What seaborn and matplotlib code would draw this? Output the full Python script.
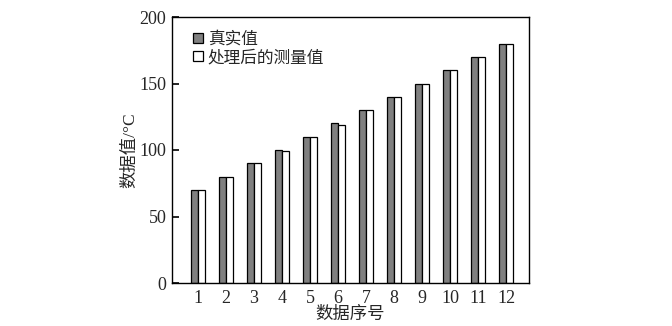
import matplotlib
matplotlib.use("Agg")
import matplotlib.pyplot as plt
import seaborn as sns
import pandas as pd

categories = ["1", "2", "3", "4", "5", "6", "7", "8", "9", "10", "11", "12"]
true_values = [70, 80, 90, 100, 110, 120, 130, 140, 150, 160, 170, 180]
measured_values = [70, 80, 90, 99, 110, 119, 130, 140, 150, 160, 170, 180]
series_names = ["真实值", "处理后的测量值"]
y_ticks = [0, 50, 100, 150, 200]

sns.set_theme(style="white")
plt.rcParams["font.family"] = ["Liberation Serif", "Noto Sans CJK SC"]
plt.rcParams["axes.unicode_minus"] = False

df = pd.DataFrame({
    "cat": categories * 2,
    "value": true_values + measured_values,
    "series": [series_names[0]] * len(categories) + [series_names[1]] * len(categories),
})

fig = plt.figure(figsize=(6.72, 3.26), dpi=100)
ax = fig.add_axes([172 / 672, 1 - 283 / 326, (529 - 172) / 672, (283 - 17) / 326])

sns.barplot(data=df, x="cat", y="value", hue="series", order=categories,
            hue_order=series_names, palette=["#808080", "#ffffff"],
            edgecolor="black", linewidth=0.9, width=0.5, gap=0.08,
            errorbar=None, ax=ax)

ax.set_xlim(-0.93, 11.82)
ax.set_ylim(0, 200)
ax.set_yticks(y_ticks)
ax.set_xlabel("数据序号", fontsize=12.5, labelpad=0)
ax.set_ylabel("数据值/°C", fontsize=12.5, labelpad=1)
ax.tick_params(axis="both", direction="in", length=5, width=1.2, color="black",
               labelsize=13, pad=5, bottom=True, left=True)
ax.tick_params(axis="y", pad=4)
for s in ax.spines.values():
    s.set_color("black")
    s.set_linewidth(1.0)

leg = ax.legend(loc="upper left", bbox_to_anchor=(0.06, 0.945), frameon=False,
                fontsize=12, handlelength=0.55, handleheight=0.55,
                handletextpad=0.3, labelspacing=0.15, borderpad=0, borderaxespad=0)
for h in leg.legend_handles:
    h.set_edgecolor("black")
    h.set_linewidth(0.9)

fig.savefig("out.png", dpi=100)
